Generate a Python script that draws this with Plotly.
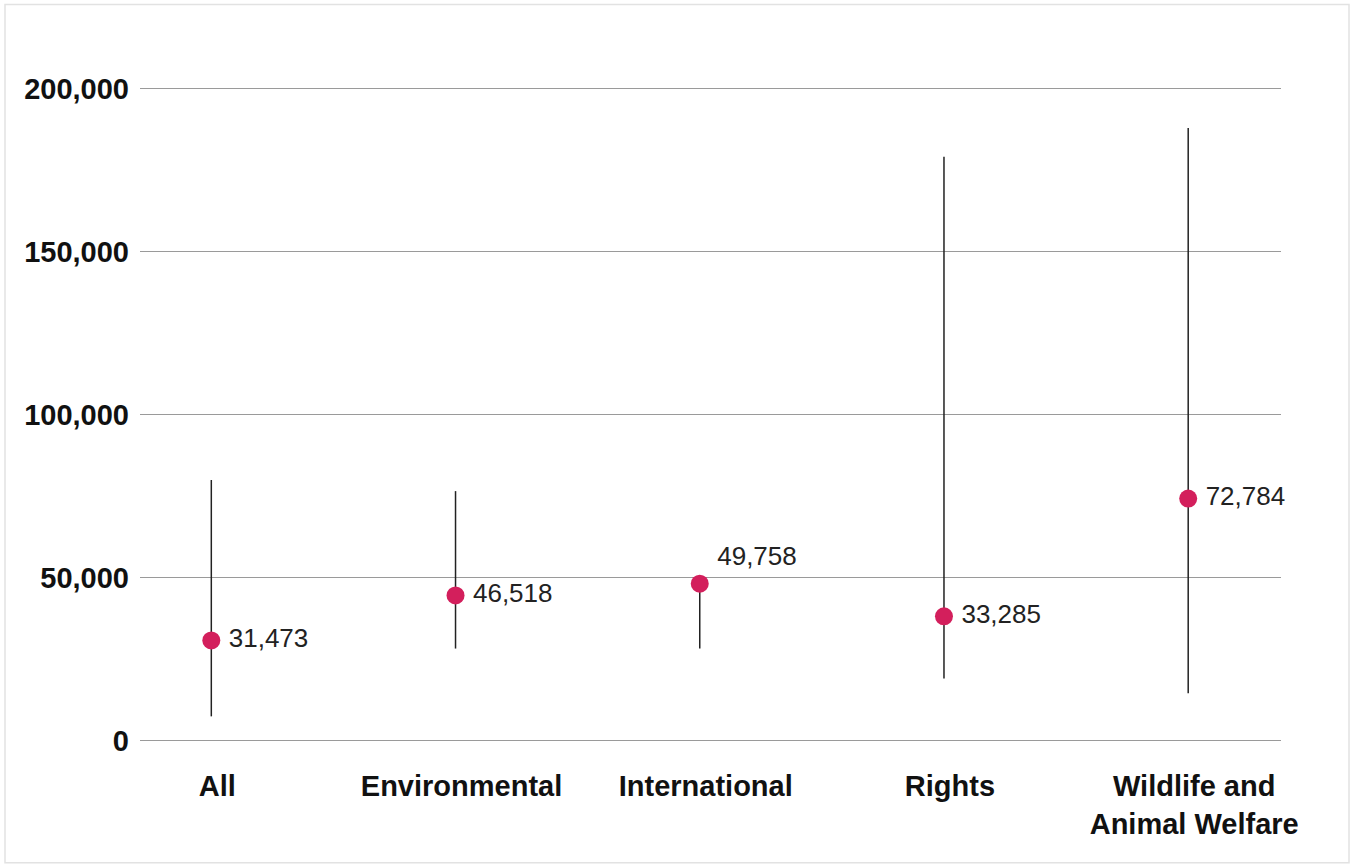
import plotly.graph_objects as go

categories = ["All", "Environmental", "International", "Rights", "Wildlife and<br>Animal Welfare"]
median_labels = [31473, 46518, 49758, 33285, 72784]
point_values = [30700, 44500, 48100, 38100, 74200]
range_low = [7400, 28200, 28200, 19000, 14500]
range_high = [79900, 76500, 48500, 179100, 187900]
y_ticks = [0, 50000, 100000, 150000, 200000]

W, H = 1352, 865
L, R = 140, 1281
T_px, B_px = 89, 740  # pixel positions of 200,000 and 0
y0, y1 = -2000, 202000
ppu = (B_px - T_px) / 200000
top = T_px - (y1 - 200000) * ppu
bottom = B_px + (0 - y0) * ppu

xs = list(range(len(categories)))

lx, ly = [], []
for i in xs:
    lx += [i, i, None]
    ly += [range_low[i], range_high[i], None]

fig = go.Figure()
fig.add_trace(go.Scatter(x=lx, y=ly, mode="lines",
                         line=dict(color="#222222", width=1.5),
                         hoverinfo="skip", showlegend=False))
fig.add_trace(go.Scatter(
    x=xs, y=point_values, mode="markers+text",
    marker=dict(size=18, color="#D31F5C"),
    text=["\u2009" + f"{v:,}" for v in median_labels],
    textposition=["middle right", "middle right", "top right", "middle right", "middle right"],
    textfont=dict(family="Liberation Sans, Arial, sans-serif", size=26, color="#222222"),
    cliponaxis=False,
    showlegend=False))

fig.update_layout(
    width=W, height=H,
    margin=dict(l=L, r=W - R, t=top, b=H - bottom, pad=0),
    paper_bgcolor="white", plot_bgcolor="white",
    xaxis=dict(range=[-0.292, 4.380], tickvals=xs, ticktext=categories,
               showgrid=False, zeroline=False, showline=False, ticks="",
               ticklabelstandoff=19, ticklabelshift=6,
               tickfont=dict(family="Liberation Sans, Arial, sans-serif", size=29, color="#111111", weight="bold")),
    yaxis=dict(range=[y0, y1], tickvals=y_ticks, tickformat=",d",
               showgrid=True, gridcolor="#9a9a9a", gridwidth=1,
               zeroline=False, showline=False, ticks="",
               ticklabelstandoff=10,
               tickfont=dict(family="Liberation Sans, Arial, sans-serif", size=29, color="#111111", weight="bold")),
)

pw = R - L
ph = bottom - top
fig.add_shape(type="rect", xref="paper", yref="paper",
              x0=(5 - L) / pw, x1=(1349 - L) / pw,
              y0=(bottom - 862) / ph, y1=(bottom - 5) / ph,
              line=dict(color="#e2e2e2", width=1.5), fillcolor="rgba(0,0,0,0)", layer="below")

fig.write_html("out.html", config={"displayModeBar": False},
               post_script="document.body.style.margin='0';")
